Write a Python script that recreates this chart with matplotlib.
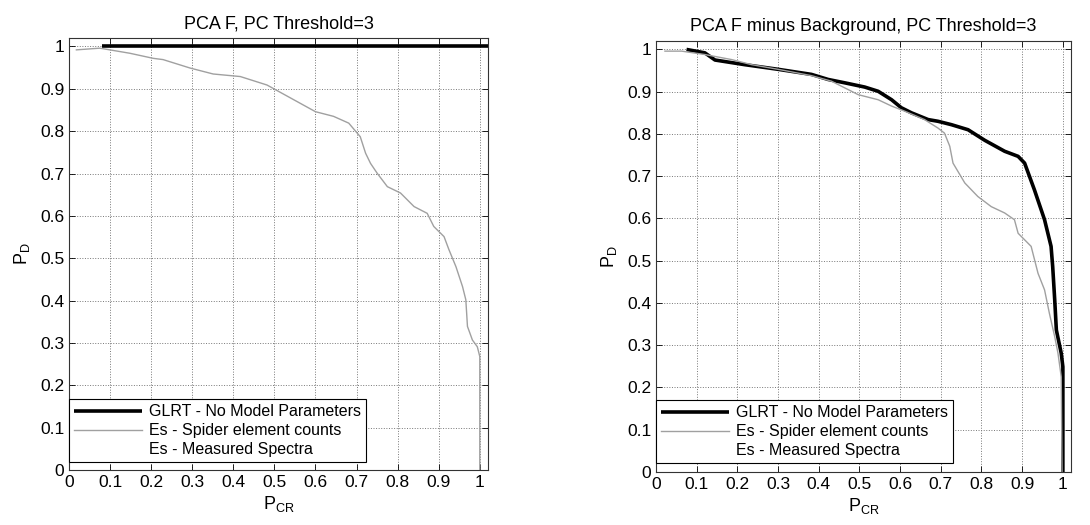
import matplotlib
matplotlib.use("Agg")
import matplotlib.pyplot as plt

plt.rcParams['font.family'] = ['Liberation Sans', 'DejaVu Sans']

titles = ["PCA F, PC Threshold=3", "PCA F minus Background, PC Threshold=3"]
labels = ["GLRT - No Model Parameters", "Es - Spider element counts", "Es - Measured Spectra"]
ticks = [0, 0.1, 0.2, 0.3, 0.4, 0.5, 0.6, 0.7, 0.8, 0.9, 1]
tick_labels = ["0", "0.1", "0.2", "0.3", "0.4", "0.5", "0.6", "0.7", "0.8", "0.9", "1"]

# Left panel
glrt1_x = [0.08, 1.02]
glrt1_y = [1.0, 1.0]
spider1_x = [0.018, 0.075, 0.148, 0.205, 0.229, 0.295, 0.351, 0.417, 0.482, 0.6, 0.644,
             0.681, 0.709, 0.722, 0.734, 0.750, 0.775, 0.807, 0.840, 0.872, 0.888, 0.913,
             0.925, 0.942, 0.958, 0.966, 0.970, 0.982, 0.994, 1.0, 1.0]
spider1_y = [0.992, 0.996, 0.984, 0.972, 0.969, 0.949, 0.935, 0.929, 0.909, 0.846, 0.835,
             0.819, 0.787, 0.748, 0.724, 0.701, 0.669, 0.654, 0.622, 0.606, 0.575, 0.551,
             0.520, 0.480, 0.433, 0.402, 0.339, 0.307, 0.291, 0.268, 0.0]

# Right panel
glrt2_x = [0.075, 0.12, 0.145, 0.218, 0.30, 0.382, 0.423, 0.464, 0.513, 0.546, 0.579,
           0.603, 0.628, 0.669, 0.693, 0.726, 0.767, 0.808, 0.857, 0.890, 0.906, 0.930,
           0.955, 0.971, 0.975, 0.980, 0.984, 0.996, 1.0, 1.0]
glrt2_y = [1.0, 0.992, 0.975, 0.964, 0.953, 0.941, 0.929, 0.921, 0.911, 0.901, 0.881,
           0.862, 0.850, 0.834, 0.830, 0.822, 0.810, 0.785, 0.759, 0.747, 0.731, 0.668,
           0.597, 0.534, 0.486, 0.407, 0.336, 0.281, 0.249, 0.0]
spider2_x = [0.022, 0.063, 0.12, 0.186, 0.235, 0.30, 0.382, 0.431, 0.464, 0.497, 0.546,
             0.579, 0.611, 0.660, 0.693, 0.709, 0.722, 0.730, 0.759, 0.791, 0.824, 0.857,
             0.881, 0.890, 0.922, 0.939, 0.955, 0.967, 0.980, 0.988, 0.996, 0.998]
spider2_y = [0.996, 0.996, 0.988, 0.976, 0.964, 0.953, 0.938, 0.925, 0.909, 0.893, 0.881,
             0.866, 0.854, 0.834, 0.814, 0.802, 0.771, 0.731, 0.684, 0.652, 0.628, 0.613,
             0.597, 0.565, 0.534, 0.470, 0.431, 0.375, 0.320, 0.281, 0.225, 0.0]
measured_x = []
measured_y = []

W, H = 1090, 525
fig = plt.figure(figsize=(W / 100, H / 100), dpi=100)

panels = [
    (titles[0], glrt1_x, glrt1_y, spider1_x, spider1_y, (69, 38, 488, 470), (69 / W, 383 / H, 313 / W, 79 / H)),
    (titles[1], glrt2_x, glrt2_y, spider2_x, spider2_y, (656, 41, 1071, 472), (656 / W, 386 / H, 312 / W, 77 / H)),
]

for title, gx, gy, sx, sy, box, lbox in panels:
    l, t, r, b = box
    ax = fig.add_axes([l / W, 1 - b / H, (r - l) / W, (b - t) / H])
    ax.plot(gx, gy, color='black', lw=2.6, label=labels[0], solid_capstyle='butt')
    ax.plot(sx, sy, color='#a0a0a0', lw=1.0, label=labels[1])
    ax.plot(measured_x, measured_y, color='white', lw=1.0, label=labels[2])
    ax.set_xlim(0, 1.02)
    ax.set_ylim(0, 1.02)
    ax.set_xticks(ticks)
    ax.set_xticklabels(tick_labels)
    ax.set_yticks(ticks)
    ax.set_yticklabels(tick_labels)
    ax.tick_params(direction='in', length=4, labelsize=12.5, top=True, right=True, width=0.6)
    ax.grid(True, linestyle=':', color='#777777', linewidth=0.7)
    for s in ax.spines.values():
        s.set_linewidth(0.8)
        s.set_color('#333333')
    ax.set_title(title, fontsize=13, pad=7)
    ax.set_xlabel(r'$\mathregular{P_{CR}}$', fontsize=13, labelpad=3)
    ax.set_ylabel(r'$\mathregular{P_{D}}$', fontsize=13, labelpad=6)
    ax_pos = ax.get_position()
    lx = (lbox[0] - ax_pos.x0) / ax_pos.width
    ly = ((1 - lbox[1] - lbox[3]) - ax_pos.y0) / ax_pos.height
    leg = ax.legend(loc='lower left', bbox_to_anchor=(lx, ly), fontsize=11.5,
                    frameon=True, fancybox=False, edgecolor='black', framealpha=1,
                    handlelength=4.3, borderaxespad=0, borderpad=0.3, labelspacing=0.25,
                    handletextpad=0.4)
    leg.get_frame().set_linewidth(0.8)

fig.savefig('out.png', dpi=100)
